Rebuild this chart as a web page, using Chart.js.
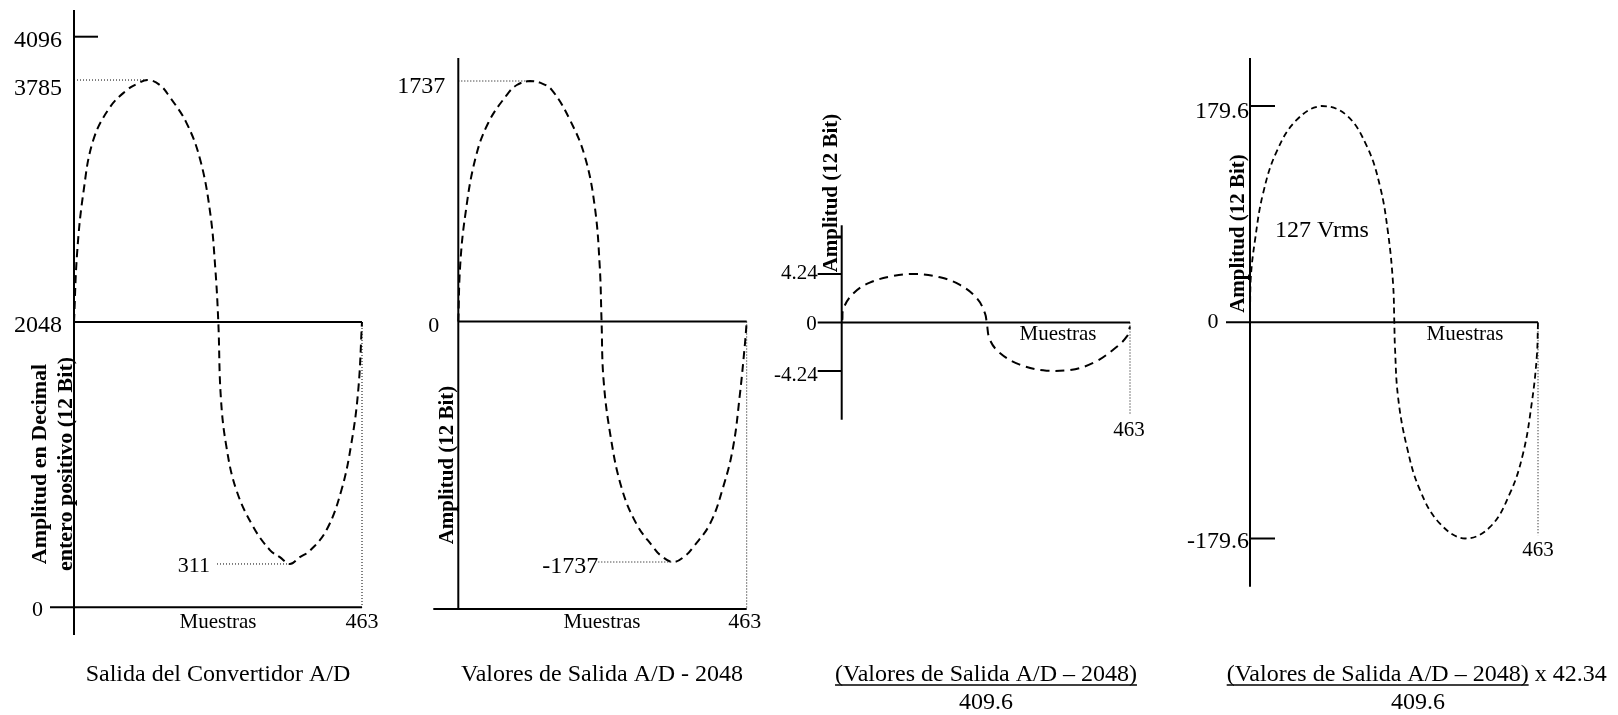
<!DOCTYPE html>
<html>
<head>
<meta charset="utf-8">
<script src="https://cdn.jsdelivr.net/npm/chart.js@4.4.1/dist/chart.umd.min.js"></script>
<style>
html, body { margin: 0; padding: 0; background: #fff; }
#wrap { position: relative; width: 1618px; height: 715px; overflow: hidden; }
canvas { position: absolute; left: 0; top: 0; }
</style>
</head>
<body>
<div id="wrap">
  <canvas id="c1" width="1618" height="715"></canvas>
  <canvas id="c2" width="1618" height="715"></canvas>
  <canvas id="c3" width="1618" height="715"></canvas>
  <canvas id="c4" width="1618" height="715"></canvas>
</div>
<script>
const FONT = '"Liberation Serif", "Times New Roman", Times, serif';
const W = 1618, H = 715;
const TICK = 24;
const lastSample = 463;

// Salida del Convertidor A/D (muestras y amplitud)
const adSamples = [0, 5, 15, 31, 58, 85, 101, 119, 138, 154, 181, 203, 219, 227, 232, 236, 245, 261, 288, 315, 331, 347, 363, 379, 406, 430, 446, 457, 463];
const adValues  = [2048, 2543, 2974, 3354, 3591, 3713, 3756, 3785, 3749, 3663, 3476, 3211, 2830, 2443, 2048, 1512, 1153, 842, 579, 411, 360, 311, 360, 405, 555, 842, 1179, 1560, 2048];
const adTicks = [4096, 3785, 2048, 0];
const adMin = 311;

// Valores de Salida A/D - 2048
const offSamples = [0, 3, 11, 27, 48, 78, 94, 115, 131, 150, 179, 203, 219, 227, 230, 233, 244, 262, 286, 313, 324, 345, 366, 377, 404, 425, 441, 452, 460, 463];
const offValues  = [0, 404, 763, 1170, 1434, 1637, 1708, 1737, 1725, 1673, 1458, 1194, 833, 404, 0, -409, -816, -1199, -1462, -1630, -1686, -1737, -1686, -1630, -1462, -1199, -912, -529, -170, 0];
const offTicks = [1737, 0];
const offMin = -1737;

// (Valores de Salida A/D - 2048) / 409.6
const normSamples = [1, 3, 19, 45, 83, 118, 158, 190, 217, 230, 233, 238, 254, 286, 329, 367, 404, 436, 458, 463];
const normValues  = [0.2, 1.25, 2.56, 3.48, 4.07, 4.24, 3.95, 3.28, 2.12, 0.82, -0.05, -1.51, -2.66, -3.68, -4.22, -4.16, -3.53, -2.38, -1.22, -0.35];
const normTicks = [4.24, 0, -4.24];

// (Valores de Salida A/D - 2048) / 409.6 x 42.34
const voltSamples = [0, 1, 8, 21, 43, 75, 115, 155, 188, 209, 222, 230, 232, 233, 238, 252, 273, 305, 346, 386, 418, 439, 453, 461, 463];
const voltValues  = [0, 35, 68, 107, 142, 168, 179.6, 172, 146, 113, 74, 32, 0, -20, -62, -103, -139, -167, -179.6, -170, -142, -109, -67, -29, 0];
const voltTicks = [179.6, 0, -179.6];

const xLabel = 'Muestras';
const rmsLabel = '127 Vrms';
const formula = '(Valores de Salida A/D \u2013 2048)';

function line(ctx, x0, y0, x1, y1, width, dash) {
  ctx.save();
  ctx.beginPath();
  ctx.strokeStyle = '#000';
  ctx.lineWidth = width || 2;
  ctx.setLineDash(dash || []);
  ctx.moveTo(x0, y0);
  ctx.lineTo(x1, y1);
  ctx.stroke();
  ctx.restore();
}
function dotted(ctx, x0, y0, x1, y1) {
  line(ctx, x0, y0, x1, y1, 1, [1, 2]);
}
function label(ctx, str, x, y, size, align, base) {
  ctx.save();
  ctx.font = size + 'px ' + FONT;
  ctx.fillStyle = '#000';
  ctx.textAlign = align || 'center';
  ctx.textBaseline = base || 'middle';
  ctx.fillText(str, x, y);
  const w = ctx.measureText(str).width;
  ctx.restore();
  return w;
}
function vlabel(ctx, str, x, y, size) {
  ctx.save();
  ctx.translate(x, y);
  ctx.rotate(-Math.PI / 2);
  ctx.font = 'bold ' + size + 'px ' + FONT;
  ctx.fillStyle = '#000';
  ctx.textAlign = 'center';
  ctx.textBaseline = 'middle';
  ctx.fillText(str, 0, 0);
  ctx.restore();
}
function helpers(chart) {
  const sx = chart.scales.x, sy = chart.scales.y;
  return { ctx: chart.ctx, px: v => sx.getPixelForValue(v), py: v => sy.getPixelForValue(v) };
}
function extreme(samples, values, fn) {
  const i = values.indexOf(fn(...values));
  return { x: samples[i], y: values[i] };
}

function drawAD(chart) {
  const { ctx, px, py } = helpers(chart);
  const x0 = px(0), x1 = px(lastSample);
  line(ctx, x0, py(4288), x0, py(-199));
  line(ctx, x0, py(adTicks[0]), x0 + TICK, py(adTicks[0]));
  line(ctx, x0, py(adTicks[2]), x1, py(adTicks[2]));
  line(ctx, x0 - TICK, py(adTicks[3]), x1, py(adTicks[3]));
  const hi = extreme(adSamples, adValues, Math.max), lo = extreme(adSamples, adValues, Math.min);
  dotted(ctx, x0, py(hi.y), px(hi.x), py(hi.y));
  dotted(ctx, x0 + 143, py(adMin), px(lo.x), py(adMin));
  dotted(ctx, x1, py(adTicks[2]), x1, py(adTicks[3]));
  label(ctx, String(adTicks[0]), x0 - 12, py(adTicks[0]) + 4, 24, 'right');
  label(ctx, String(adTicks[1]), x0 - 12, py(adTicks[1]) + 9, 24, 'right');
  label(ctx, String(adTicks[2]), x0 - 12, py(adTicks[2]) + 4, 24, 'right');
  label(ctx, String(adTicks[3]), x0 - 31, py(adTicks[3]) + 3, 22, 'right');
  label(ctx, String(adMin), x0 + 136, py(adMin) + 2, 22, 'right');
  label(ctx, xLabel, 218, py(0) + 15, 21);
  label(ctx, String(lastSample), x1, py(0) + 15, 22);
  vlabel(ctx, 'Amplitud en Decimal', 40, 464, 22);
  vlabel(ctx, 'entero positivo (12 Bit)', 66, 464, 22);
  label(ctx, 'Salida del Convertidor A/D', 218, 681, 24, 'center', 'alphabetic');
}

function drawOff(chart) {
  const { ctx, px, py } = helpers(chart);
  const x0 = px(0), x1 = px(lastSample);
  const floor = -2076;
  line(ctx, x0, py(1903), x0, py(floor));
  line(ctx, x0, py(0), x1, py(0));
  line(ctx, x0 - 25, py(floor), x1, py(floor));
  const hi = extreme(offSamples, offValues, Math.max), lo = extreme(offSamples, offValues, Math.min);
  dotted(ctx, x0, py(hi.y), px(hi.x), py(hi.y));
  dotted(ctx, x0 + 140, py(offMin), px(lo.x), py(offMin));
  dotted(ctx, x1, py(0), x1, py(floor));
  label(ctx, String(offTicks[0]), x0 - 13, py(offTicks[0]) + 6, 24, 'right');
  label(ctx, String(offTicks[1]), x0 - 19, py(offTicks[1]) + 4.5, 22, 'right');
  label(ctx, String(offMin), x0 + 140, py(offMin) + 5, 24, 'right');
  label(ctx, xLabel, 602, py(floor) + 13.5, 21);
  label(ctx, String(lastSample), x1 - 2, py(floor) + 13.5, 22);
  vlabel(ctx, 'Amplitud (12 Bit)', 447.5, 465, 21);
  label(ctx, 'Valores de Salida A/D - 2048', 602, 681, 24, 'center', 'alphabetic');
}

function drawNorm(chart) {
  const { ctx, px, py } = helpers(chart);
  const x0 = px(0), x1 = px(lastSample);
  line(ctx, x0, py(8.5), x0, py(-8.5));
  line(ctx, x0 - TICK, py(0), x1, py(0));
  line(ctx, x0 - TICK, py(normTicks[0]), x0, py(normTicks[0]));
  line(ctx, x0 - TICK, py(normTicks[2]), x0, py(normTicks[2]));
  dotted(ctx, x1, py(0), x1, py(-8.1));
  label(ctx, normTicks[0].toFixed(2), x0 - 24, py(normTicks[0]) - 1, 21, 'right');
  label(ctx, String(normTicks[1]), x0 - 25, py(normTicks[1]) + 2, 21, 'right');
  label(ctx, normTicks[2].toFixed(2), x0 - 24, py(normTicks[2]) + 4, 21, 'right');
  label(ctx, xLabel, 1058, py(0) + 12, 21);
  label(ctx, String(lastSample), x1 - 1, py(-8.1) + 15, 21);
  vlabel(ctx, 'Amplitud (12 Bit)', 831.7, 193, 21);
  const w = label(ctx, formula, 986, 681, 24, 'center', 'alphabetic');
  line(ctx, 986 - w / 2, 685, 986 + w / 2, 685, 1.4);
  label(ctx, '409.6', 986, 709, 24, 'center', 'alphabetic');
}

function drawVolt(chart) {
  const { ctx, px, py } = helpers(chart);
  const x0 = px(0), x1 = px(lastSample);
  line(ctx, x0, py(219.5), x0, py(-219.6));
  line(ctx, x0 - TICK, py(0), x1, py(0));
  line(ctx, x0, py(voltTicks[0]), x0 + 25, py(voltTicks[0]));
  line(ctx, x0, py(voltTicks[2]), x0 + 25, py(voltTicks[2]));
  dotted(ctx, x1, py(0), x1, py(-177));
  label(ctx, voltTicks[0].toFixed(1), x0 - 1, py(voltTicks[0]) + 6, 24, 'right');
  label(ctx, String(voltTicks[1]), x0 - 37, py(voltTicks[1]), 22);
  label(ctx, voltTicks[2].toFixed(1), x0 - 1, py(voltTicks[2]) + 3, 24, 'right');
  label(ctx, xLabel, 1465, py(0) + 12, 21);
  label(ctx, String(lastSample), x1, py(-177) + 15, 21);
  label(ctx, rmsLabel, 1322, 231, 24);
  vlabel(ctx, 'Amplitud (12 Bit)', 1239, 233.5, 21);
  const left = 1226.7;
  const w = label(ctx, formula, left, 681, 24, 'left', 'alphabetic');
  line(ctx, left, 685, left + w, 685, 1.4);
  label(ctx, ' x 42.34', left + w, 681, 24, 'left', 'alphabetic');
  label(ctx, '409.6', 1418, 709, 24, 'center', 'alphabetic');
}

function makePanel(id, samples, values, area, yMin, yMax, dash, width, draw) {
  return new Chart(document.getElementById(id), {
    type: 'line',
    data: {
      datasets: [{
        data: samples.map((s, i) => ({ x: s, y: values[i] })),
        borderColor: '#000',
        borderWidth: width,
        borderDash: dash,
        pointRadius: 0,
        fill: false,
        tension: 0.4,
        clip: false
      }]
    },
    options: {
      responsive: false,
      animation: false,
      events: [],
      layout: { padding: { left: area[0], top: area[1], right: W - area[2], bottom: H - area[3] } },
      scales: {
        x: { type: 'linear', min: 0, max: lastSample, display: false },
        y: { type: 'linear', min: yMin, max: yMax, display: false }
      },
      plugins: { legend: { display: false }, tooltip: { enabled: false } }
    },
    plugins: [{ id: 'sketch_' + id, afterDatasetsDraw: draw }]
  });
}

makePanel('c1', adSamples, adValues, [74, 36.7, 362, 607.3], 0, 4096, [8, 5], 2, drawAD);
makePanel('c2', offSamples, offValues, [458.3, 81, 746.7, 562], -1737, 1737, [8, 5], 2, drawOff);
makePanel('c3', normSamples, normValues, [841.7, 274, 1130, 371], -4.24, 4.24, [9, 6], 2, drawNorm);
makePanel('c4', voltSamples, voltValues, [1250, 106, 1538, 538.5], -179.6, 179.6, [6, 4], 1.8, drawVolt);
</script>
</body>
</html>
